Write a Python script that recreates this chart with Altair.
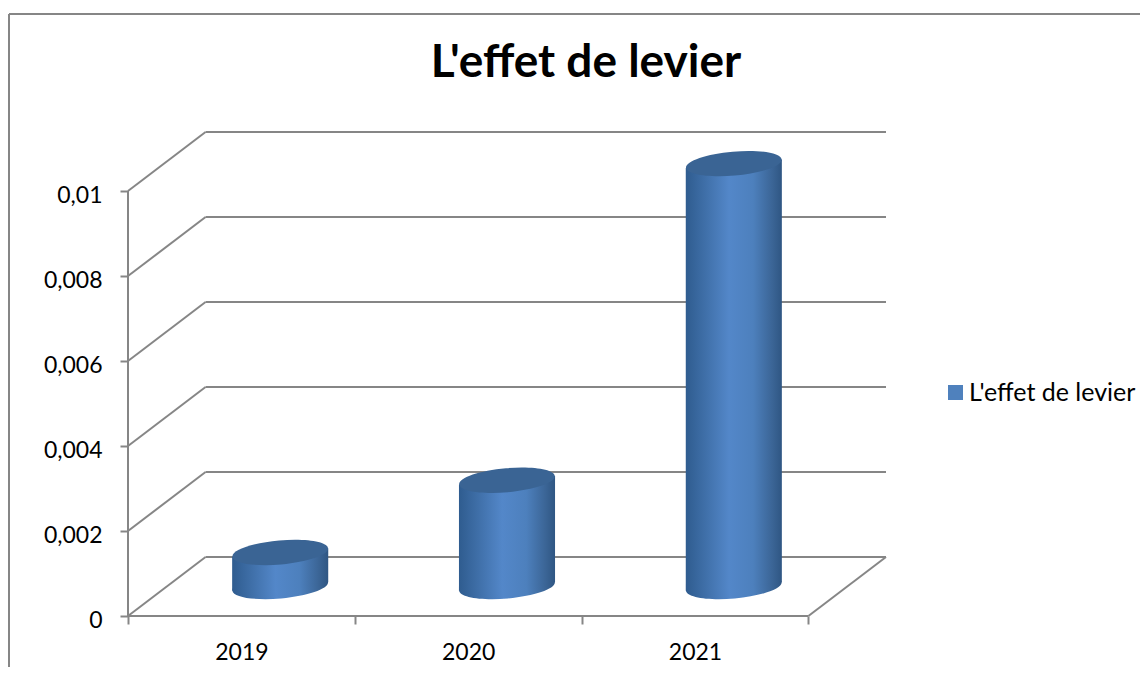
import altair as alt
import pandas as pd

years = ["2019", "2020", "2021"]
values = [0.0008, 0.0025, 0.00995]
y_ticks = [0, 0.002, 0.004, 0.006, 0.008, 0.01]
series = "L'effet de levier"

# depth of the fake 3D box, in data units
depth_x = 0.342
depth_y = 0.00139
n = len(years)
# half width of a cylinder and vertical tilt of its rim, in data units
half_w = 0.2118
tilt = 0.0001

LINE = "#868686"
FONT = "Lato"

bars = pd.DataFrame({
    "pos": [i + 0.5 + depth_x / 2 for i in range(n)],
    "year": years,
    "top": [v + depth_y / 2 for v in values],
    "base": [depth_y / 2] * n,
})

body_rows = []
for i, (y, v) in enumerate(zip(years, values)):
    c = i + 0.5 + depth_x / 2
    body_rows.append(dict(year=y, xp=c - half_w, top=v + depth_y / 2 - tilt, base=depth_y / 2 - tilt))
    body_rows.append(dict(year=y, xp=c + half_w, top=v + depth_y / 2 + tilt, base=depth_y / 2 + tilt))
body_df = pd.DataFrame(body_rows)

segs = []
for v in y_ticks:
    segs.append(dict(x=depth_x, x2=n + depth_x, y=v + depth_y, y2=v + depth_y))
    segs.append(dict(x=0, x2=depth_x, y=v, y2=v + depth_y))
segs.append(dict(x=0, x2=n, y=0, y2=0))
segs.append(dict(x=n, x2=n + depth_x, y=0, y2=depth_y))
segs.append(dict(x=0, x2=0, y=0, y2=max(y_ticks)))
segs = pd.DataFrame(segs)

xscale = alt.Scale(domain=[0, n + depth_x], nice=False, zero=False, padding=0)
yscale = alt.Scale(domain=[0, max(y_ticks) + depth_y], nice=False, padding=0)

label_expr = "[" + ",".join(f"'{y}'" for y in years) + "][floor(datum.value)]"

x_labels = alt.Axis(values=[i + 0.5 for i in range(n)], labelExpr=label_expr, title=None, grid=False, domain=False,
                    ticks=False, labelFont=FONT, labelFontSize=23, labelColor="#000000", labelPadding=25,
                    orient="bottom")
x_ticks = alt.Axis(values=list(range(n + 1)), labels=False, title=None, grid=False, domain=False,
                   ticks=True, tickSize=8, tickColor=LINE, tickWidth=2, orient="bottom")
y_axis = alt.Axis(values=y_ticks, title=None, grid=False, domain=False, tickSize=8, tickColor=LINE, tickWidth=2,
                  labelFont=FONT, labelFontSize=23, labelColor="#000000", labelPadding=18, labelOffset=4,
                  labelExpr="replace(format(datum.value, '~g'), '.', ',')")

body_fill = alt.Gradient(
    gradient="linear", x1=0, x2=1, y1=0, y2=0,
    stops=[
        alt.GradientStop(offset=0, color="#2f5c8f"),
        alt.GradientStop(offset=0.2, color="#3f6fa8"),
        alt.GradientStop(offset=0.45, color="#5387c9"),
        alt.GradientStop(offset=0.7, color="#4d80bd"),
        alt.GradientStop(offset=0.9, color="#3b6596"),
        alt.GradientStop(offset=1, color="#2f5683"),
    ],
)
ELLIPSE = "M-1,0 A1,0.25,0,1,0,1,0 A1,0.25,0,1,0,-1,0 Z"
BAR_W = 96

seg_layer = alt.Chart(segs).mark_rule(color=LINE, strokeWidth=2).encode(
    x=alt.X("x:Q", scale=xscale, axis=x_ticks), x2="x2:Q",
    y=alt.Y("y:Q", scale=yscale, axis=y_axis), y2="y2:Q",
)

frame = pd.DataFrame({"k": [0]})
frame_top = alt.Chart(frame).mark_rule(color=LINE, strokeWidth=2).encode(
    x=alt.value(-119), x2=alt.value(1012), y=alt.value(-118))
frame_left = alt.Chart(frame).mark_rule(color=LINE, strokeWidth=2).encode(
    x=alt.value(-119), y=alt.value(-118), y2=alt.value(540))

base = alt.Chart(bars)
x_plain = alt.X("pos:Q", scale=xscale, axis=None)
ye = alt.Y("top:Q", scale=yscale, axis=y_axis)

bottom_cap = base.mark_point(shape=ELLIPSE, size=BAR_W ** 2, filled=True, fill=body_fill, opacity=1, strokeWidth=0,
                             angle=355).encode(
    x=alt.X("pos:Q", scale=xscale, axis=x_labels), y=alt.Y("base:Q", scale=yscale, axis=y_axis))
body = alt.Chart(body_df).mark_area(fill=body_fill, line=False).encode(
    x=alt.X("xp:Q", scale=xscale, axis=None), y=alt.Y("top:Q", scale=yscale, axis=y_axis), y2="base:Q",
    detail="year:N")
top_cap = base.mark_point(shape=ELLIPSE, size=BAR_W ** 2, filled=True, fill="#3a6494", opacity=1, strokeWidth=0,
                          angle=355).encode(x=x_plain, y=ye)
legend_layer = base.mark_point(filled=True, size=0, opacity=0).encode(
    x=x_plain, y=ye,
    color=alt.Color("s:N", scale=alt.Scale(domain=[series], range=["#4f81bd"]),
                    legend=alt.Legend(title=None, orient="none", legendX=815, legendY=248, symbolType="square",
                                      symbolSize=225, symbolOpacity=1, symbolStrokeWidth=0, labelFont=FONT,
                                      labelFontSize=25, labelColor="#000000", labelOffset=1, labelLimit=220)),
).transform_calculate(s=f'"{series}"')

chart = alt.layer(seg_layer, frame_top, frame_left, bottom_cap, body, top_cap, legend_layer).resolve_axis(
    x="independent"
).properties(
    width=758, height=484,
    padding={"left": 120, "top": 124, "right": 254, "bottom": 51},
    autosize=alt.AutoSizeParams(type="none"),
    background="white",
    title=alt.TitleParams(text=series, font=FONT, fontSize=46, fontWeight="bold", color="#000000", anchor="middle",
                          dx=79, offset=-74),
).configure_view(stroke=None)

chart.save("out.html", embed_options={"renderer": "svg", "actions": False})
